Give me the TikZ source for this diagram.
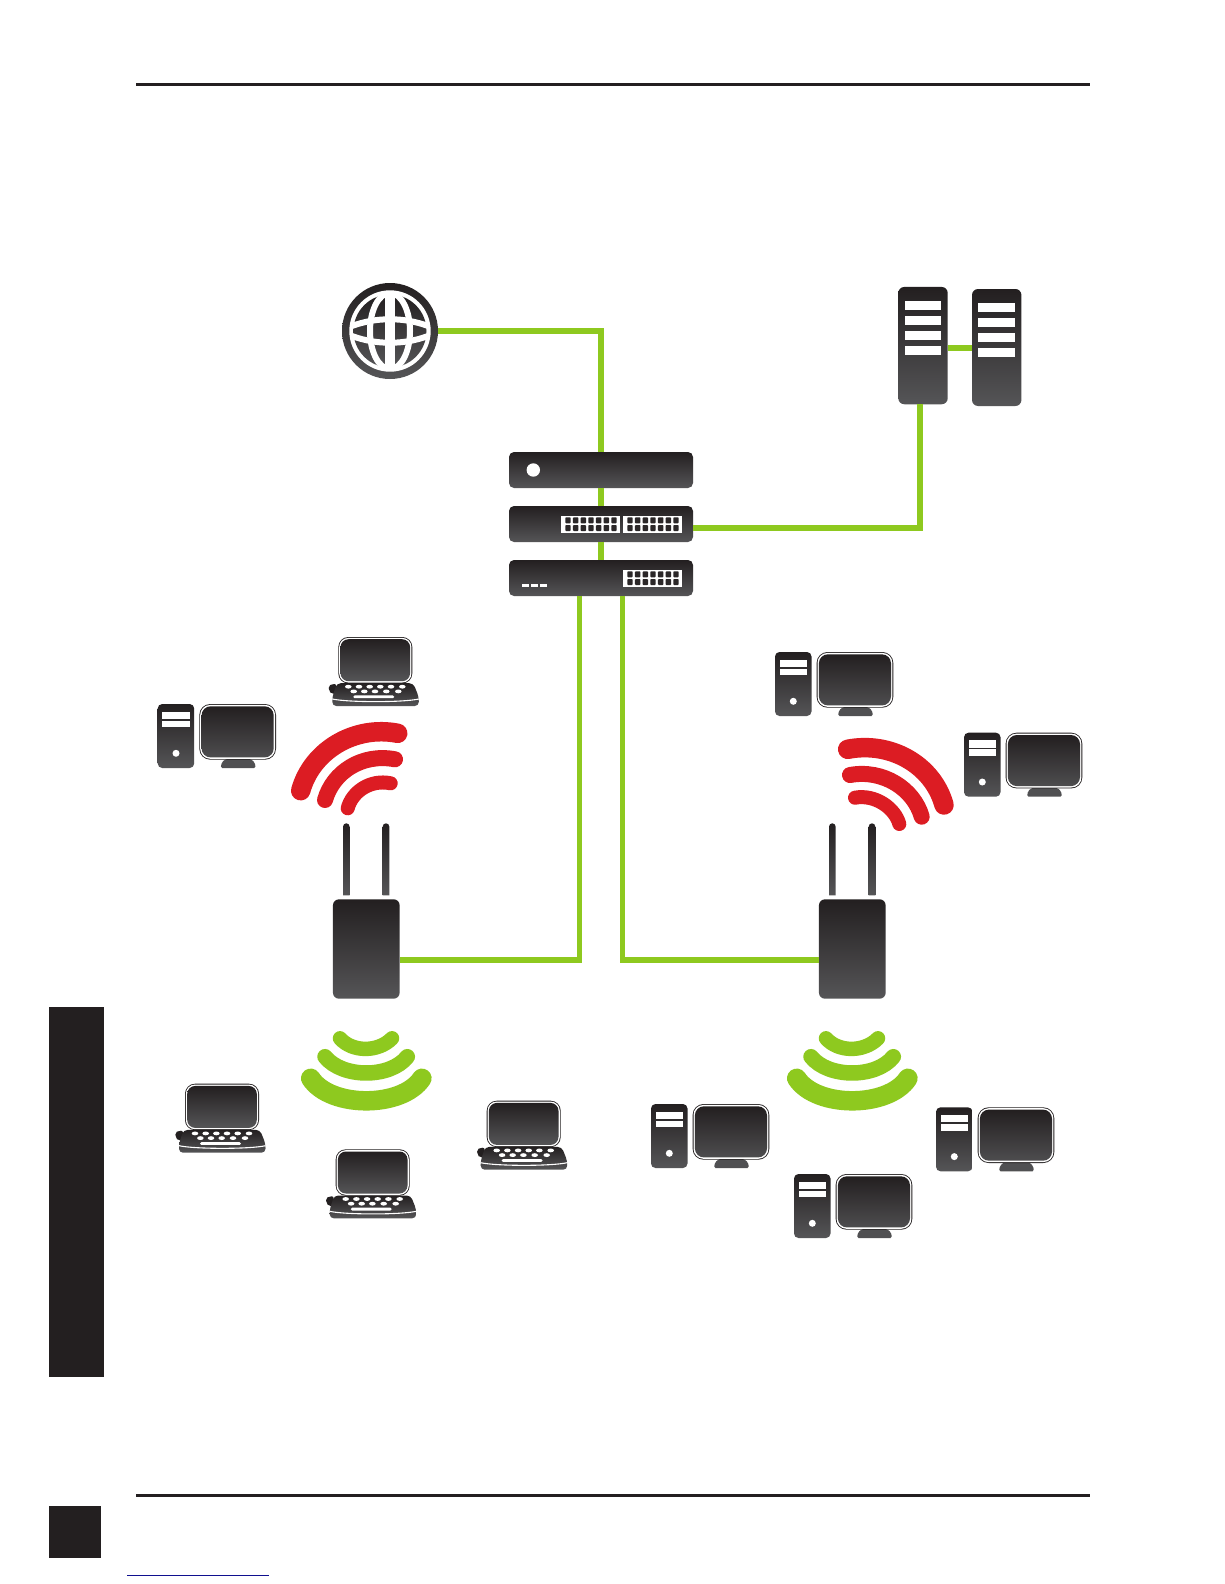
\documentclass[tikz,border=0pt]{standalone}
\definecolor{devtop}{HTML}{231F20}
\definecolor{devbot}{HTML}{555557}
\definecolor{linkgreen}{HTML}{8EC91F}
\definecolor{wifired}{HTML}{DC1C23}
\definecolor{blockdark}{HTML}{231F20}
\definecolor{uline}{HTML}{10108F}
\tikzset{
  x=1pt,y=-1pt,
  metal/.style={top color=devtop,bottom color=devbot,draw=none},
  devbox/.style={metal,rectangle,rounded corners=#1,inner sep=0pt,outer sep=0pt},
  devbox/.default=5pt,
  link/.style={draw=linkgreen,line width=5.6pt,line join=miter},
  rfred/.style={draw=wifired,line cap=round,line width=#1},
  rfgreen/.style={draw=linkgreen,line cap=round,line width=#1},
  pc/.pic={
    \shade[metal,rounded corners=4.5pt] (0,0) rectangle (36.5,64);
    \fill[white] (4.6,7.7) rectangle (32.3,15);
    \fill[white] (4.6,16.7) rectangle (32.3,23.3);
    \fill[white] (18.3,49.3) circle (3.5);
    \fill[devbot!90!devtop,rounded corners=1.5pt] (63,64) -- (64,58.5) -- (68,55) -- (93,55) -- (97,58.5) -- (98,64) -- cycle;
    \fill[devtop,rounded corners=11pt] (41.6,0) rectangle (118.3,55.7);
    \fill[white,rounded corners=10pt] (42.5,.9) rectangle (117.4,54.8);
    \shade[top color=devtop,bottom color=devbot!85!devtop,rounded corners=9pt] (43.9,2.3) rectangle (116,53.4);
  },
  laptop/.pic={
    \fill[devtop,rounded corners=2pt] (-10,49) -- (-6,47) -- (-2,47) -- (-2,56) -- (-7,57) -- (-9,54) -- cycle;
    \shade[metal,rounded corners=4pt] (-1.5,46.2) -- (75,46.2) -- (80.5,60) -- (80.5,69) -- (-6,69) -- (-6,60) -- cycle;
    \draw[white,line width=1.1pt] (-6,62) .. controls (10,65.5) and (65,65.5) .. (80.5,62);
    \foreach \kx in {10,20.7,31.4,42,52.7,64} \fill[white] (\kx,49.7) ellipse (3.3 and 1.9);
    \foreach \kx in {15.4,26,36.7,48,60} \fill[white] (\kx,54.4) ellipse (3.3 and 1.9);
    \fill[white,rounded corners=1.4pt] (15,58.4) rectangle (56,61.2);
    \fill[devtop,rounded corners=10pt] (0,0) rectangle (74,46.4);
    \fill[white,rounded corners=9pt] (.9,.9) rectangle (73.1,45.5);
    \shade[top color=devtop,bottom color=devbot,rounded corners=8pt] (2.2,2.2) rectangle (71.8,44.2);
  },
  ports/.pic={
    \fill[white] (0,0) rectangle (59,17);
    \foreach \c in {0,...,6}
      \foreach \r in {1.3,9}
        \fill[devtop!85!devbot,rounded corners=.8pt] ({4.3+\c*7.67},\r) rectangle ++(5.4,6);
  },
  wifidown/.pic={
    \draw[rfgreen=19.5pt] (-55.6,79.3) .. controls (-36,109.3) and (36,109.3) .. (55.6,79.3);
    \draw[rfgreen=15.5pt] (-41.3,57.7) .. controls (-24,79.4) and (24,79.4) .. (41,57.7);
    \draw[rfgreen=14.5pt] (-26.3,39.3) .. controls (-14,53.4) and (12,53.4) .. (25.7,39.3);
  },
}
\begin{document}
\begin{tikzpicture}
\useasboundingbox (0,0) rectangle (1224,1584);
\fill[white] (0,0) rectangle (1224,1584);

% page furniture
\fill[blockdark] (136,83) rectangle (1090,86);
\fill[blockdark] (136,1493.5) rectangle (1090,1496.5);
\fill[blockdark] (49.3,1007) rectangle (104,1376.7);
\fill[blockdark] (49.3,1506) rectangle (101,1557.7);
\fill[uline] (126.7,1574.6) rectangle (268.7,1576);

% device nodes (sizes in px)
\node[circle,metal,inner sep=0pt,outer sep=0pt,minimum size=96pt] (globe) at (390,331) {};
\node[devbox,minimum width=184pt,minimum height=36pt] (router) at (601,470) {};
\node[devbox,minimum width=184pt,minimum height=36pt] (switchA) at (601,524) {};
\node[devbox,minimum width=184pt,minimum height=36pt] (switchB) at (601,578) {};
\node[devbox=6pt,minimum width=49.4pt,minimum height=117.3pt] (serverA) at (923,345.6) {};
\node[devbox=6pt,minimum width=49.4pt,minimum height=117pt] (serverB) at (996.7,347.5) {};
\node[devbox=6pt,minimum width=66.7pt,minimum height=99.4pt] (apA) at (366.3,949) {};
\node[devbox=6pt,minimum width=66.7pt,minimum height=99.4pt] (apB) at (852.3,949) {};

% connector end points
\coordinate (swAout) at (693,528);
\coordinate (srvAin) at (920,404.3);
\coordinate (swBl) at (579.5,596);
\coordinate (swBr) at (622.5,596);
\coordinate (apAin) at (399.6,960);
\coordinate (apBin) at (819,960);
\coordinate (srvAlink) at (947.7,347.7);
\coordinate (srvBlink) at (972,347.7);

% connectors
\draw[link] (globe.east) -| (router.north);
\draw[link] (router.south) -- (switchA.north);
\draw[link] (switchA.south) -- (switchB.north);
\draw[link] (swAout) -| (srvAin);
\draw[link] (srvAlink) -- (srvBlink);
\draw[link] (swBl) |- (apAin);
\draw[link] (swBr) |- (apBin);

% globe
\fill[white] (globe.center) circle (40.7);
\shade[top color=devtop,bottom color=devbot] (globe.center) circle (36.5);
\begin{scope}[shift={(390,331)}]
\clip (0,0) circle (37.5);
\draw[white,line width=9.5pt] (0,-40) -- (0,40);
\draw[white,line width=6pt] (0,0) ellipse (20 and 38);
\draw[white,line width=6pt] (-38,-5) .. controls (-14,-14) and (14,-14) .. (38,-5);
\draw[white,line width=6pt] (-38,5) .. controls (-14,14) and (14,14) .. (38,5);
\end{scope}

% router and switches
\fill[white] (533.3,470) circle (6.7);
\pic at (561,516) {ports};
\pic at (623,516) {ports};
\pic at (623,570) {ports};
\foreach \dx in {522,530.7,539.7} \fill[white] (\dx,584) rectangle ++(7,2.6);

% servers
\foreach \sy in {301,316,331,346} \fill[white] (905,\sy) rectangle ++(36,9);
\foreach \sy in {302.7,317.7,332.7,347.7} \fill[white] (978,\sy) rectangle ++(37,9);

% access point antennas
\foreach \ax in {346.3,386,832.3,872}{
  \shade[metal] (\ax-3.3,895.3) [rounded corners=3.3pt] -- (\ax-3.3,823.3) -- (\ax+3.3,823.3) [sharp corners] -- (\ax+3.3,895.3) -- cycle;
}

% red wireless arcs
\draw[rfred=19.5pt] (300.7,790.7) .. controls (312,750) and (355,725) .. (397.7,733.3);
\draw[rfred=16pt] (325,800) .. controls (333,772) and (362,753) .. (395,759.3);
\draw[rfred=14pt] (347.7,808.3) .. controls (352,792) and (370,779) .. (390.7,783.3);
\draw[rfred=19.5pt] (847.7,749.3) .. controls (890,741) and (932.7,764.3) .. (944,805);
\draw[rfred=16pt] (850,775) .. controls (883,769) and (913.7,788.7) .. (921.7,816.7);
\draw[rfred=14pt] (855,797.7) .. controls (875,794) and (895,808) .. (899.3,824);

% green wireless arcs
\pic at (366.3,999) {wifidown};
\pic at (852.3,999) {wifidown};

% computers
\pic at (157.7,704) {pc};
\pic at (775,652) {pc};
\pic at (964,732.7) {pc};
\pic at (651,1104) {pc};
\pic at (936,1107.3) {pc};
\pic at (794,1174) {pc};

% laptops
\pic at (338.3,637) {laptop};
\pic at (185,1083.7) {laptop};
\pic at (486.7,1100.7) {laptop};
\pic at (335.7,1149.3) {laptop};
\end{tikzpicture}
\end{document}
